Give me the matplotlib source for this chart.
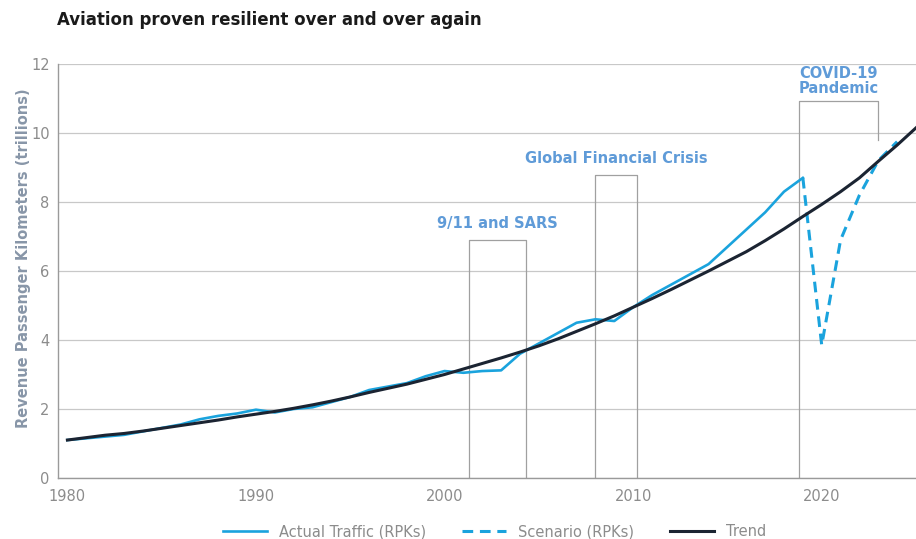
import matplotlib.pyplot as plt

# --- DATA ---
actual_years = list(range(1980, 2020))
actual_rpk = [1.10, 1.15, 1.20, 1.25, 1.35, 1.45, 1.55, 1.70, 1.80, 1.87,
              1.98, 1.90, 2.00, 2.05, 2.20, 2.35, 2.55, 2.65, 2.75, 2.95,
              3.10, 3.05, 3.10, 3.12, 3.60, 3.90, 4.20, 4.50, 4.60, 4.55,
              4.95, 5.30, 5.60, 5.90, 6.20, 6.70, 7.20, 7.70, 8.30, 8.70]

scenario_years = [2019, 2020, 2021, 2022, 2023, 2024]
scenario_rpk = [8.70, 3.85, 6.90, 8.20, 9.20, 9.75]

trend_years = list(range(1980, 2026))
trend_rpk = [1.10, 1.17, 1.24, 1.29, 1.36, 1.44, 1.52, 1.60, 1.68, 1.77,
             1.85, 1.93, 2.02, 2.12, 2.23, 2.35, 2.48, 2.60, 2.72, 2.86,
             3.00, 3.16, 3.32, 3.48, 3.65, 3.83, 4.03, 4.25, 4.47, 4.70,
             4.95, 5.20, 5.46, 5.73, 6.00, 6.28, 6.56, 6.88, 7.22, 7.58,
             7.93, 8.30, 8.70, 9.18, 9.65, 10.15]

# crisis boxes: (label, start, end, top)
crises = [
    ("9/11 and SARS", 2001.3, 2004.3, 6.9),
    ("Global Financial Crisis", 2008.0, 2010.2, 8.78),
]
covid_box = ("COVID-19\nPandemic", 2018.8, 2023.0, 10.93, 9.8)

# --- STYLE ---
CYAN = "#1aa3dd"
NAVY = "#1b2432"
LABEL_BLUE = "#5f9bd8"
GRID = "#c8c8c8"
BOX = "#a0a0a0"
TICK = "#8c8c8c"

fig = plt.figure(figsize=(9.16, 5.39), dpi=100)
ax = fig.add_axes([0.0633, 0.1132, 0.9367, 0.768])

ax.plot(actual_years, actual_rpk, color=CYAN, lw=1.9, label="Actual Traffic (RPKs)", zorder=3)
ax.plot(scenario_years, scenario_rpk, color=CYAN, lw=2.2, ls=(0, (3.5, 2.2)),
        label="Scenario (RPKs)", zorder=3)
ax.plot(trend_years, trend_rpk, color=NAVY, lw=2.2, label="Trend", zorder=4)

# crisis boxes
for label, x0, x1, top in crises:
    ax.plot([x0, x0, x1, x1], [0, top, top, 0], color=BOX, lw=0.9, zorder=2)
    ax.text((x0 + x1) / 2, top + 0.25, label, color=LABEL_BLUE, fontsize=10.5,
            fontweight="bold", ha="center", va="bottom")

label, x0, x1, top, right_bottom = covid_box
ax.plot([x0, x0, x1, x1], [0, top, top, right_bottom], color=BOX, lw=0.9, zorder=2)
ax.text((x0 + x1) / 2, top + 0.15, label, color=LABEL_BLUE, fontsize=10.5,
        fontweight="bold", ha="center", va="bottom", linespacing=0.95)

ax.set_xlim(1979.5, 2025)
ax.set_ylim(0, 12)
ax.set_yticks(range(0, 13, 2))
ax.set_xticks([1980, 1990, 2000, 2010, 2020])
ax.yaxis.grid(True, color=GRID, lw=0.9)
ax.set_axisbelow(True)
ax.tick_params(axis="both", length=0, colors=TICK, labelsize=10.5)
ax.tick_params(axis="x", pad=8)
ax.tick_params(axis="y", pad=6)
for side in ["top", "right"]:
    ax.spines[side].set_visible(False)
for side in ["left", "bottom"]:
    ax.spines[side].set_color("#9a9a9a")
    ax.spines[side].set_linewidth(1.0)

ax.set_ylabel("Revenue Passenger Kilometers (trillions)", color="#8896a8",
              fontsize=10.5, fontweight="bold")
ax.yaxis.set_label_coords(-0.032, 0.53)

fig.text(0.062, 0.962, "Aviation proven resilient over and over again",
         fontsize=12, fontweight="bold", color="#1a1a1a", va="center")

leg = fig.legend(loc="lower center", bbox_to_anchor=(0.54, -0.025), ncol=3,
                 frameon=False, fontsize=10.5, handlelength=3, columnspacing=2.5)
for t in leg.get_texts():
    t.set_color("#8c8c8c")

fig.savefig("out.png", dpi=100)
